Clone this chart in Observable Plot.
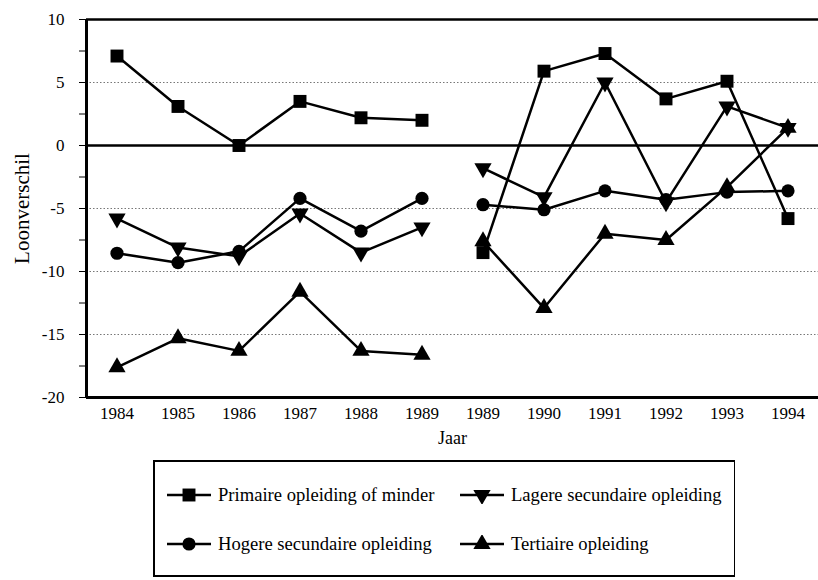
<!DOCTYPE html>
<html>
<head>
<meta charset="utf-8">
<script src="https://cdn.jsdelivr.net/npm/d3@7"></script>
<script src="https://cdn.jsdelivr.net/npm/@observablehq/plot@0.6"></script>
<style>
  html, body { margin: 0; padding: 0; background: #fff; overflow: hidden; }
  #wrap { position: relative; width: 818px; height: 580px; font-family: "Liberation Serif", "Times New Roman", serif; }
  #legend {
    position: absolute; left: 153px; top: 460px; width: 582px; height: 117px;
    box-sizing: border-box; border: 2px solid #000; border-right-width: 1px;
    display: grid; grid-template-columns: 293px auto; grid-template-rows: 49px 49px;
    padding: 8px 0 0 12px; align-items: center;
    font-size: 18.6px; color: #000;
  }
  .item { display: flex; align-items: center; white-space: nowrap; }
  .item svg { margin-right: 7px; flex: none; }
</style>
</head>
<body>
<div id="wrap"><div id="chart"></div><div id="legend"></div></div>
<script>
// ---- Data ----
const years = ["1984","1985","1986","1987","1988","1989","1989","1990","1991","1992","1993","1994"];
const segment = [0,0,0,0,0,0,1,1,1,1,1,1];
const seriesNames = ["Primaire opleiding of minder","Lagere secundaire opleiding","Hogere secundaire opleiding","Tertiaire opleiding"];
const primaire  = [7.1, 3.1, 0.0, 3.5, 2.2, 2.0, -8.5, 5.9, 7.3, 3.7, 5.1, -5.8];
const lagere    = [-5.8, -8.1, -8.8, -5.4, -8.5, -6.5, -1.8, -4.1, 5.0, -4.5, 3.1, 1.4];
const hogere    = [-8.55, -9.3, -8.4, -4.2, -6.8, -4.2, -4.7, -5.1, -3.6, -4.3, -3.7, -3.6];
const tertiaire = [-17.6, -15.3, -16.3, -11.6, -16.3, -16.6, -7.6, -12.9, -7.0, -7.5, -3.3, 1.4];
const yTicks = [-20, -17.5, -15, -12.5, -10, -7.5, -5, -2.5, 0, 2.5, 5, 7.5, 10];
const gridValues = [5, -5, -10, -15];
const solidValues = [0, 10];
const xLabel = "Jaar";
const yLabel = "Loonverschil";

// custom downward triangle symbol
const triangleDown = {
  draw(context, size) {
    const s3 = Math.sqrt(3);
    const y = Math.sqrt(size / (s3 * 3));
    context.moveTo(0, y * 2);
    context.lineTo(-s3 * y, -y);
    context.lineTo(s3 * y, -y);
    context.closePath();
  }
};

const seriesValues = [primaire, lagere, hogere, tertiaire];
const symbols = ["square", triangleDown, "circle", "triangle"];
const radii = [7.3, 6.4, 6.6, 6.4];

const idx = d3.range(years.length);
const rows = [];
seriesValues.forEach((vals, s) => {
  vals.forEach((v, i) => rows.push({i, value: v, series: seriesNames[s], seg: segment[i]}));
});

const dotMarks = seriesNames.map((name, s) =>
  Plot.dot(rows.filter(d => d.series === name), {
    x: "i", y: "value", symbol: symbols[s], r: radii[s], fill: "black", stroke: "none"
  })
);

const chart = Plot.plot({
  width: 818,
  height: 455,
  marginLeft: 86,
  marginRight: 0,
  marginTop: 19,
  marginBottom: 58,
  style: { fontFamily: "Liberation Serif, Times New Roman, serif", fontSize: "17px", color: "black", background: "white" },
  x: {
    domain: [-0.5, years.length - 0.5],
    ticks: idx,
    tickFormat: i => years[i],
    tickSize: 0,
    tickPadding: 9,
    label: xLabel,
    labelArrow: "none",
    labelAnchor: "center",
    labelOffset: 46
  },
  y: {
    domain: [-20, 10],
    ticks: yTicks,
    tickFormat: d => (d % 5 === 0 ? String(d) : ""),
    tickSize: 7,
    tickPadding: 15,
    label: yLabel,
    labelArrow: "none",
    labelAnchor: "center",
    labelOffset: 72
  },
  marks: [
    Plot.ruleY(gridValues, {stroke: "#777", strokeWidth: 1, strokeDasharray: "1.5,2"}),
    Plot.ruleY(solidValues, {stroke: "black", strokeWidth: 2.5}),
    Plot.ruleY([-20], {stroke: "black", strokeWidth: 3}),
    Plot.ruleX([-0.5], {stroke: "black", strokeWidth: 3}),
    Plot.line(rows, {x: "i", y: "value", z: d => d.series + "-" + d.seg, stroke: "black", strokeWidth: 2.5}),
    ...dotMarks
  ]
});
document.getElementById("chart").appendChild(chart);

// label styling (remove arrows if any, set sizes)
d3.select(chart).selectAll("text").each(function() {
  const t = this.textContent.replace(/\s*[→↑]\s*/g, "").trim();
  if (t === yLabel || t === xLabel) {
    if (this.textContent !== t) {
      d3.select(this).selectAll("tspan").remove();
      this.textContent = t;
    }
    d3.select(this).style("font-size", t === yLabel ? "21px" : "18px");
  }
});

// ---- Legend ----
const legend = d3.select("#legend");
[0, 1, 2, 3].forEach(s => {
  const item = legend.append("div").attr("class", "item");
  const svg = item.append("svg").attr("width", 44).attr("height", 18);
  svg.append("line").attr("x1", 0).attr("x2", 44).attr("y1", 9).attr("y2", 9)
    .attr("stroke", "black").attr("stroke-width", 2.5);
  const size = Math.PI * radii[s] * radii[s];
  const sym = typeof symbols[s] === "string"
    ? {square: d3.symbolSquare, circle: d3.symbolCircle, triangle: d3.symbolTriangle}[symbols[s]]
    : symbols[s];
  svg.append("path").attr("transform", "translate(22,9)")
    .attr("d", d3.symbol(sym, size)()).attr("fill", "black");
  item.append("span").text(seriesNames[s]);
});
</script>
</body>
</html>
